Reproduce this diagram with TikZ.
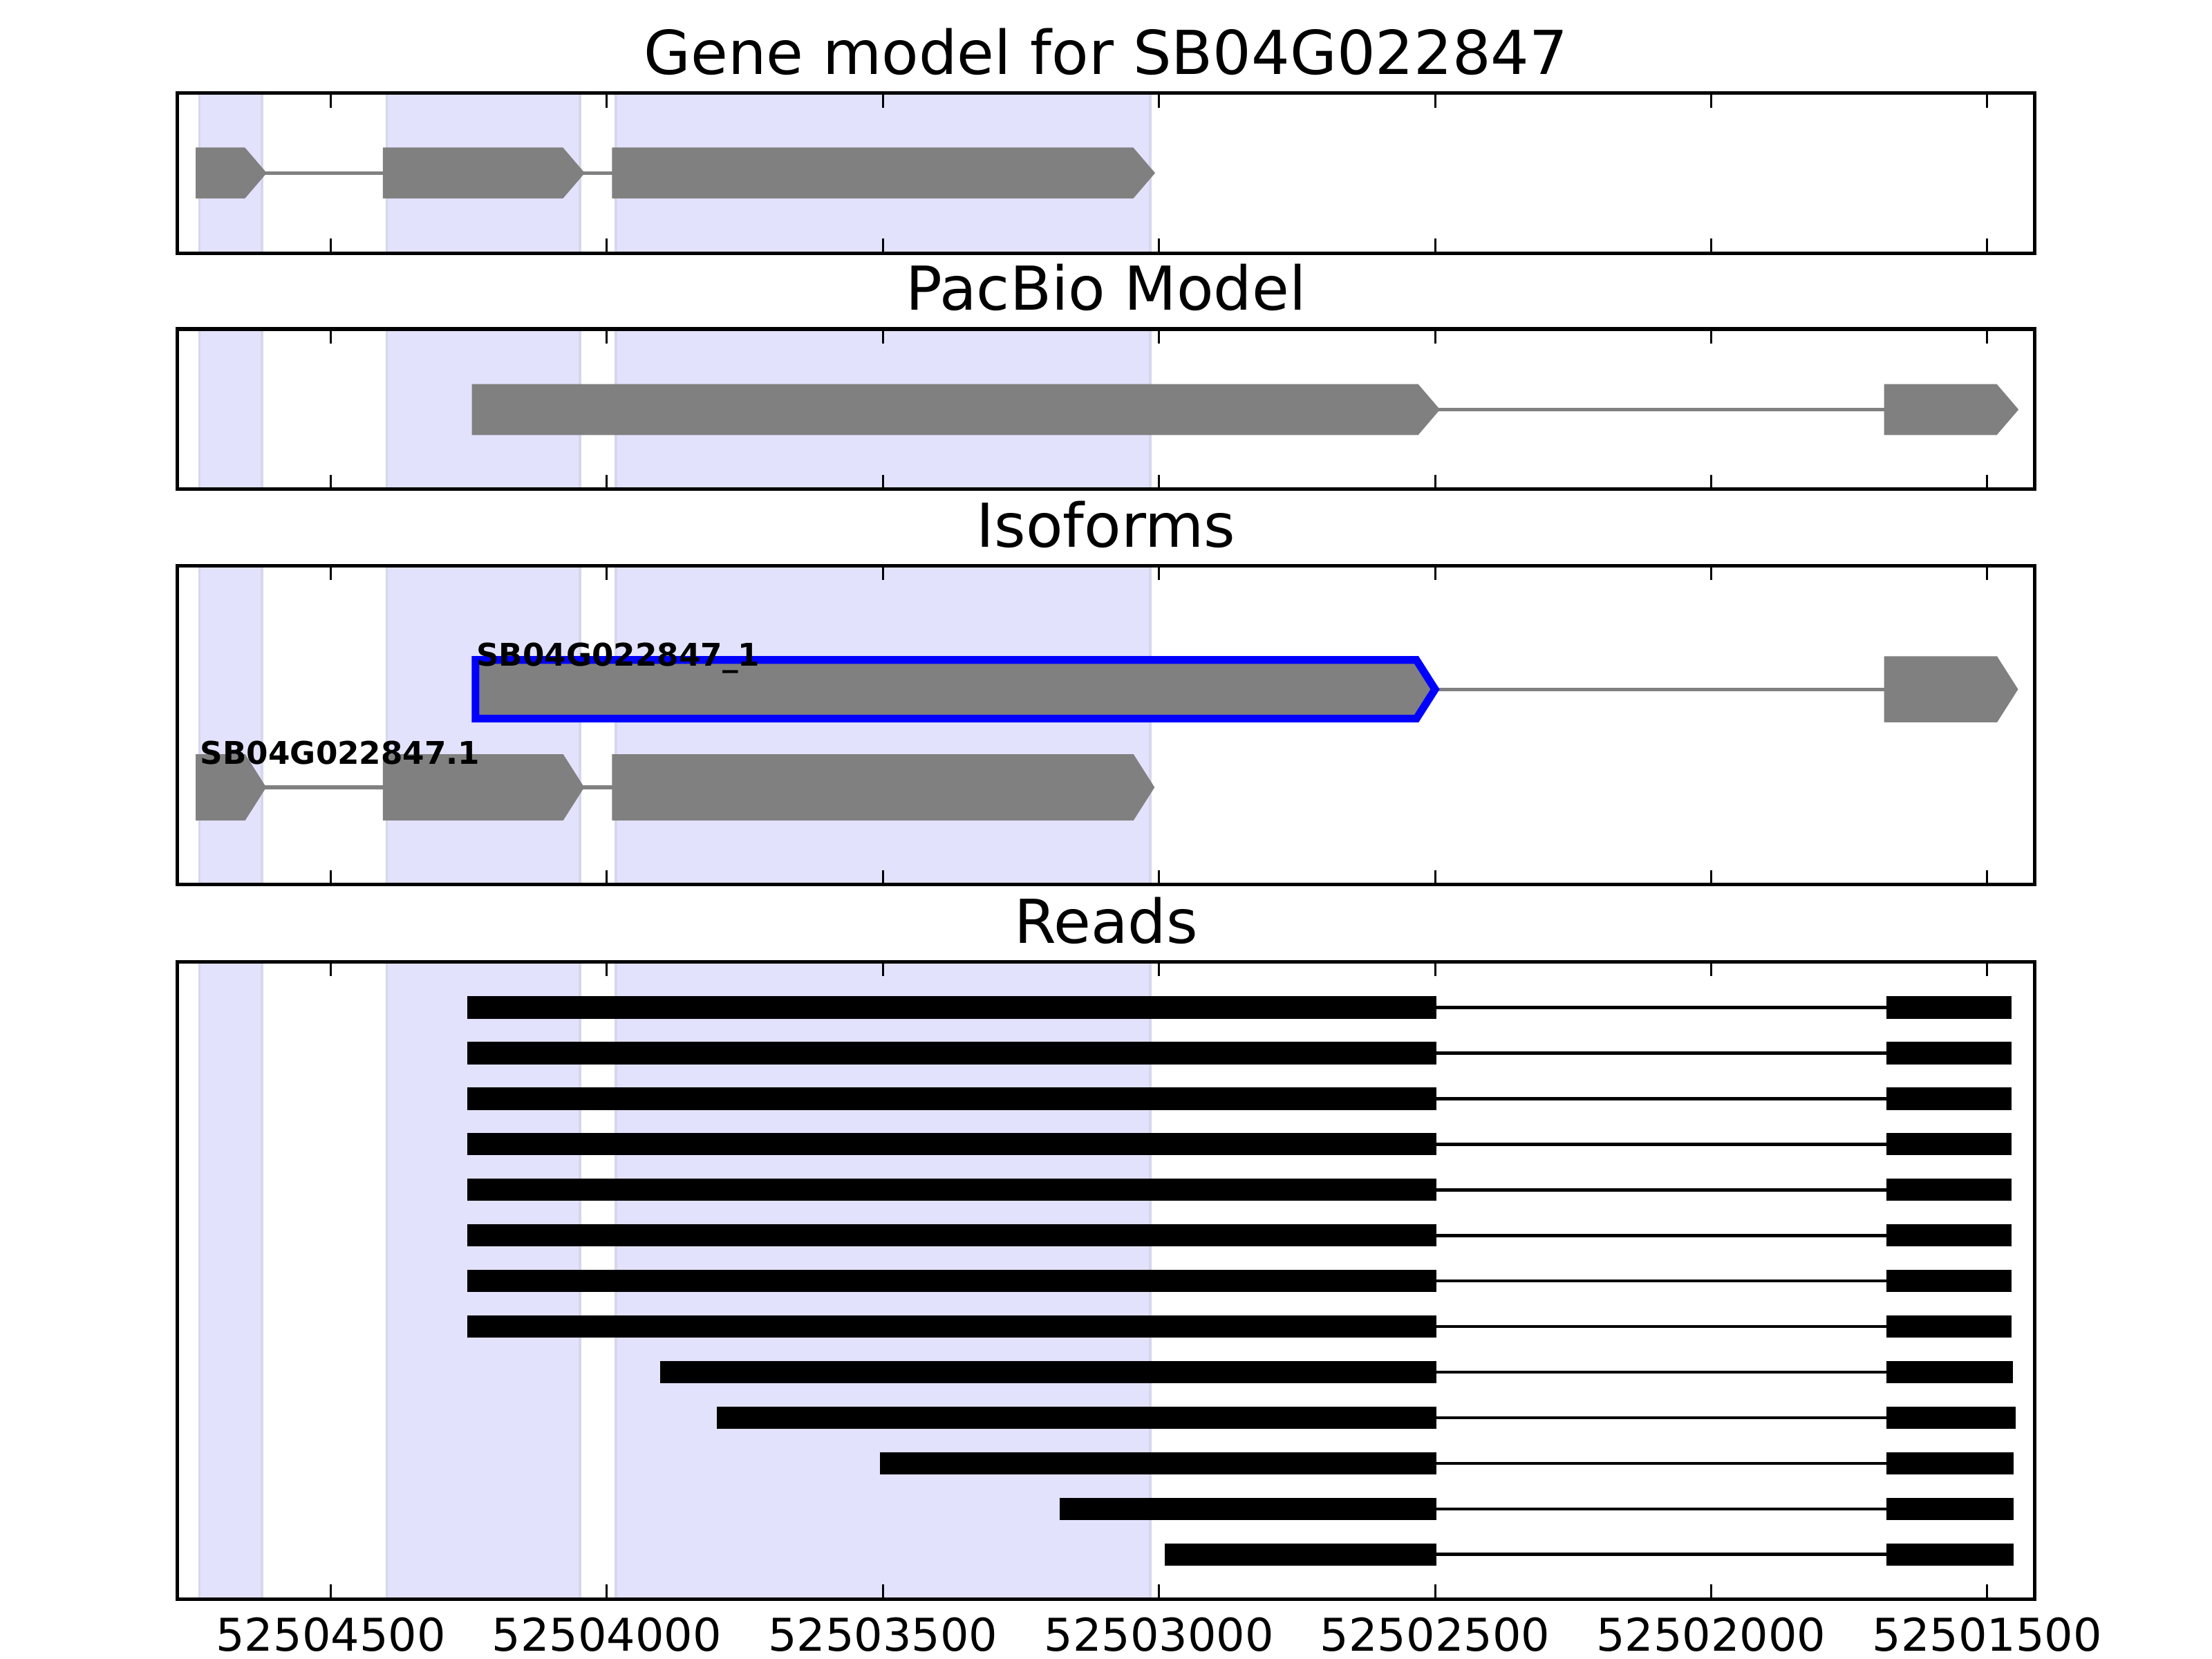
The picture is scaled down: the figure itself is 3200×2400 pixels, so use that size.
\documentclass[tikz,border=0pt]{standalone}
\usepackage{fontspec}
\setmainfont{DejaVu Sans}
\usetikzlibrary{calc}

\definecolor{spanblue}{RGB}{226,226,252}
\definecolor{spanedge}{RGB}{214,214,236}
\definecolor{exongray}{RGB}{128,128,128}

% chromosome position (minus 52500000) -> x
\newcommand{\gx}[1]{4072.8-0.7987*#1}
% exon arrow: [style]{from}{to}{y}{half height}
\newcommand{\exon}[5][exon]{%
  \draw[#1] (\gx{#2},#4-#5) -- ({\gx{#3}-27},#4-#5) -- (\gx{#3},#4)
    -- ({\gx{#3}-27},#4+#5) -- (\gx{#2},#4+#5) -- cycle;}
\newcommand{\spans}[2]{%
  \foreach \sa/\sb in {4738/4625,4399/4049,3984/3016}
    \draw[span] (\gx{\sa},#1) rectangle (\gx{\sb},#2);}
\newcommand{\axes}[2]{%
  \foreach \tk in {4500,4000,...,1500} {
    \draw[axtick] (\gx{\tk},#1) -- ++(0,21);
    \draw[axtick] (\gx{\tk},#2) -- ++(0,-21);
  }
  \draw[panelframe] (256.5,#1) rectangle (2943.7,#2);}

\begin{document}
\begin{tikzpicture}[x=0.0049cm,y=-0.0049cm,
  span/.style={fill=spanblue,draw=spanedge,line width=0.5pt},
  exon/.style={fill=exongray,draw=exongray,line width=1.5pt},
  chosen/.style={fill=exongray,draw=blue,line width=1.55pt},
  intron/.style={draw=exongray,line width=0.7pt},
  readbar/.style={fill=black},
  readline/.style={draw=black,line width=0.65pt},
  axtick/.style={draw=black,line width=0.42pt},
  panelframe/.style={draw=black,line width=0.7pt},
  ptitle/.style={font=\fontsize{12.2}{14}\selectfont,anchor=base,inner sep=0pt},
  isolabel/.style={font=\fontsize{6.3}{7.5}\selectfont\bfseries,anchor=base west,inner sep=0pt},
  ticklabel/.style={font=\fontsize{9.1}{11}\selectfont,anchor=base,inner sep=0pt}]
\useasboundingbox (0,0) rectangle (3200,2400);

% gene model
\spans{134.7}{366.5}
\draw[intron] (\gx{4625},250.3) -- (\gx{4399},250.3);
\draw[intron] (\gx{4049},250.3) -- (\gx{3984},250.3);
\exon{4738}{4625}{250.3}{31.5}
\exon{4399}{4049}{250.3}{31.5}
\exon{3984}{3016}{250.3}{31.5}
\axes{134.7}{366.5}
\node[ptitle] (t1) at (1600,107.7) {Gene model for SB04G022847};

% pacbio
\spans{476}{707.5}
\draw[intron] (\gx{2500},592.5) -- (\gx{1680},592.5);
\exon{4238}{2500}{592.5}{31.5}
\exon{1680}{1452}{592.5}{31.5}
\axes{476}{707.5}
\node[ptitle] (t2) at (1600,449) {PacBio Model};

% isoforms
\spans{818.4}{1279.6}
\draw[intron] (\gx{2500},997.2) -- (\gx{1680},997.2);
\exon[chosen]{4238}{2500}{997.2}{42.4}
\exon{1680}{1452}{997.2}{42.4}
\draw[intron] (\gx{4625},1139) -- (\gx{4399},1139);
\draw[intron] (\gx{4049},1139) -- (\gx{3984},1139);
\exon{4738}{4625}{1139}{42.4}
\exon{4399}{4049}{1139}{42.4}
\exon{3984}{3016}{1139}{42.4}
\node[isolabel] (iso1) at (\gx{4238},963.3) {SB04G022847\_1};
\node[isolabel] (iso2) at (\gx{4738},1105) {SB04G022847.1};
\axes{818.4}{1279.6}
\node[ptitle] (t3) at (1600,791.4) {Isoforms};

% reads
\spans{1391}{2313}
\foreach \i/\rstart/\rend in {1/4253/1456,2/4253/1456,3/4253/1456,4/4253/1456,
    5/4253/1456,6/4253/1456,7/4253/1456,8/4253/1456,9/3904/1453,
    10/3801/1449,11/3506/1452,12/3180/1452,13/2990/1452} {
  \pgfmathsetmacro\y{1457.4+(\i-1)*65.95}
  \draw[readline] (\gx{2497},\y) -- (\gx{1683},\y);
  \fill[readbar] (\gx{\rstart},\y-16.2) rectangle (\gx{2497},\y+16.2);
  \fill[readbar] (\gx{1683},\y-16.2) rectangle (\gx{\rend},\y+16.2);
}
\axes{1391}{2313}
\node[ptitle] (t4) at (1600,1364) {Reads};

\foreach \tk in {4500,4000,...,1500}
  \node[ticklabel] (lab\tk) at (\gx{\tk},2388) {5250\tk};
\end{tikzpicture}
\end{document}
